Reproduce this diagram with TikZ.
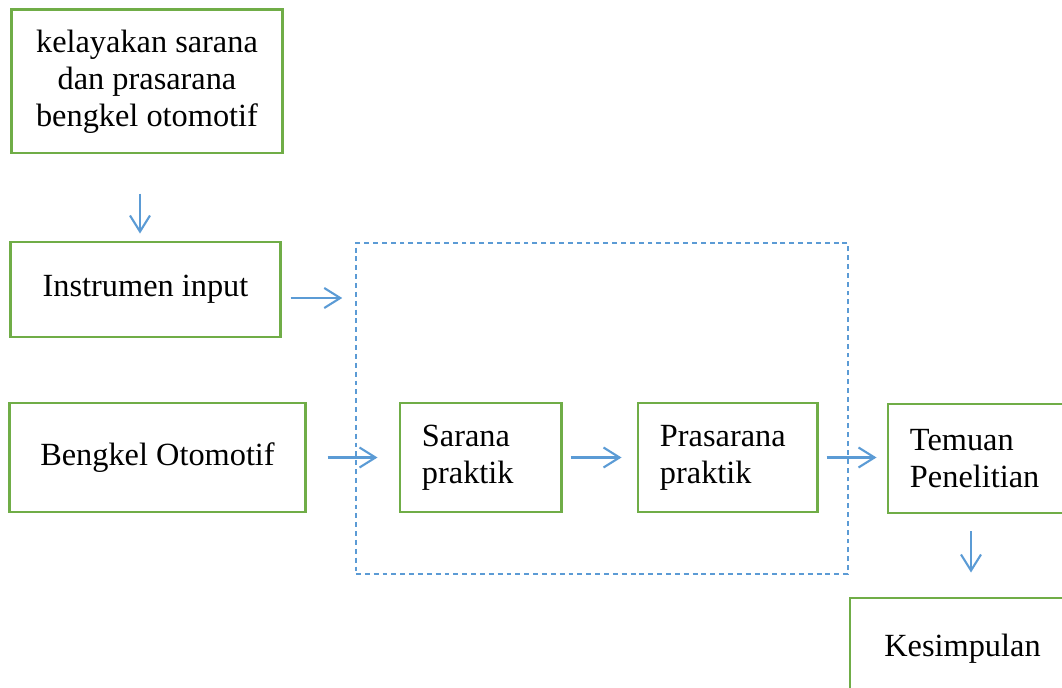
\documentclass[tikz,border=0pt]{standalone}
\usepackage{fontspec}
\setmainfont{Liberation Serif}
\usepackage{tikz}
\usetikzlibrary{positioning,arrows.meta}
\definecolor{boxgreen}{HTML}{70AD47}
\definecolor{arrblue}{HTML}{5B9BD5}

\begin{document}
\begin{tikzpicture}[
          x=0.025cm, y=-0.025cm,
          box/.style={draw=boxgreen, line width=2.1pt, inner sep=0pt,
            font=\fontsize{23}{26.2}\selectfont},
          lbox/.style={box, align=left, inner xsep=0.55cm},
          arr/.style={draw=arrblue, line width=1.5pt,
            -{Straight Barb[length=0.4cm,width=0.5cm,line width=1.5pt]}},
          grp/.style={draw=arrblue, line width=1pt, dash pattern=on 3.5pt off 2.8pt}
      ]
        \useasboundingbox (0,0) rectangle (1062,688);
        \node[grp, minimum width=12.3cm, minimum height=8.275cm] (proses) at (602,408.5) {};
        \node[box, align=center, minimum width=6.75cm, minimum height=3.575cm] (kelayakan) at (147,81.5) {kelayakan sarana\\dan prasarana\\bengkel otomotif};
        \node[box, minimum width=6.725cm, minimum height=2.375cm] (instrumen) at (145.5,289.5) {Instrumen input};
        \node[box, minimum width=7.375cm, minimum height=2.725cm] (bengkel) at (157.5,457.5) {Bengkel Otomotif};
        \node[lbox, text width=2.925cm, minimum height=2.725cm] (sarana) at (480.5,457.5) {Sarana\\praktik};
        \node[lbox, text width=3.375cm, minimum height=2.725cm] (prasarana) at (727.5,457.5) {Prasarana\\praktik};
        \node[lbox, text width=3.575cm, minimum height=2.725cm] (temuan) at (981.5,458.5) {Temuan\\Penelitian};
        \node[box, minimum width=5.625cm, minimum height=2.55cm] (kesimpulan) at (962.5,649) {Kesimpulan};
        \draw[arr, shorten <=0.975cm, shorten >=0.175cm] ([xshift=-0.175cm]kelayakan.south) -- ([xshift=-0.175cm]kelayakan.south |- instrumen.north);
        \draw[arr, shorten <=0.225cm, shorten >=0.325cm] ([yshift=-0.2125cm]instrumen.east) -- ([yshift=-0.2125cm]instrumen.east -| proses.west);
        \draw[arr, shorten <=0.525cm, shorten >=0.525cm] (bengkel.east) -- (sarana.west);
        \draw[arr, shorten <=0.2cm, shorten >=0.375cm] (sarana.east) -- (prasarana.west);
        \draw[arr, shorten <=0.2cm, shorten >=0.25cm] (prasarana.east) -- (prasarana.east -| temuan.west);
        \draw[arr, shorten <=0.425cm, shorten >=0.6cm] ([xshift=-0.2625cm]temuan.south) -- ([xshift=-0.2625cm]temuan.south |- kesimpulan.north);
      \end{tikzpicture}
\end{document}
